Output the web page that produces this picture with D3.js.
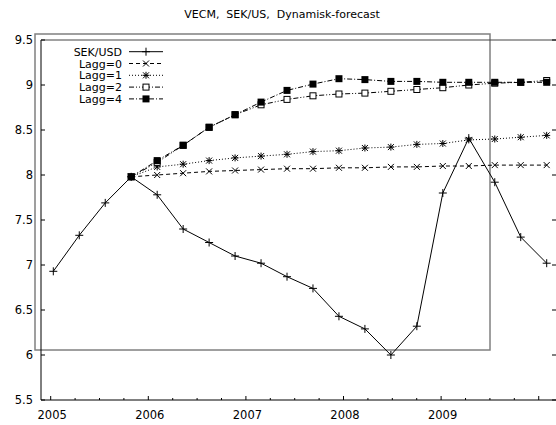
<!DOCTYPE html>
<html><head><meta charset="utf-8">
<script src="https://cdn.jsdelivr.net/npm/d3@7"></script>
<style>body{margin:0;background:#fff}svg{display:block}text{font-family:"DejaVu Sans",Verdana,sans-serif;fill:#000}</style>
</head><body><svg id="c" width="556" height="425"></svg>
<script>
const title = "VECM,  SEK/US,  Dynamisk-forecast";
const quarters = ["2005Q1","2005Q2","2005Q3","2005Q4","2006Q1","2006Q2","2006Q3","2006Q4","2007Q1","2007Q2","2007Q3","2007Q4","2008Q1","2008Q2","2008Q3","2008Q4","2009Q1","2009Q2","2009Q3","2009Q4"];
const sekusd = [6.93,7.33,7.69,7.98,7.78,7.40,7.25,7.10,7.02,6.87,6.74,6.43,6.29,6.00,6.32,7.80,8.41,7.92,7.31,7.02];
const forecastQuarters = quarters.slice(3);
const lagg0 = [7.98,8.00,8.02,8.04,8.05,8.06,8.07,8.07,8.08,8.08,8.09,8.09,8.10,8.10,8.11,8.11,8.11];
const lagg1 = [7.98,8.09,8.12,8.16,8.19,8.21,8.23,8.26,8.27,8.30,8.31,8.34,8.35,8.39,8.40,8.42,8.44];
const lagg2 = [7.98,8.14,8.33,8.53,8.67,8.78,8.84,8.88,8.90,8.91,8.93,8.95,8.97,9.00,9.02,9.03,9.05];
const lagg4 = [7.98,8.16,8.33,8.53,8.67,8.81,8.94,9.01,9.07,9.06,9.04,9.04,9.03,9.03,9.03,9.03,9.03];
const yTicks = [5.5,6,6.5,7,7.5,8,8.5,9,9.5];
const yearTicks = [2005,2006,2007,2008,2009];
const legendLabels = ["SEK/USD","Lagg=0","Lagg=1","Lagg=2","Lagg=4"];

const svg = d3.select("#c");
const L = 41, R = 556, T = 40, B = 400;
const y = d3.scaleLinear().domain([5.5, 9.5]).range([B, T]);
const xAxisScale = d3.scaleLinear().domain([2004.9006, 2010.177]).range([L, R]);
const xData = d3.scalePoint().domain(quarters).range([53.3, 546.7]);

// title
svg.append("text").attr("x", 282).attr("y", 18).attr("text-anchor", "middle")
  .style("font-size", "11px").style("white-space", "pre").text(title);

// gray overlay rectangle
svg.append("rect").attr("x", 35).attr("y", 34).attr("width", 455).attr("height", 316)
  .attr("fill", "none").attr("stroke", "#808080").attr("stroke-width", 1.5);

// frame
const frame = svg.append("g").attr("stroke", "#000").attr("stroke-width", 1);
frame.append("line").attr("x1", L).attr("x2", L).attr("y1", T).attr("y2", B);
frame.append("line").attr("x1", L).attr("x2", R).attr("y1", B).attr("y2", B);
frame.append("line").attr("x1", L).attr("x2", R).attr("y1", T).attr("y2", T).attr("stroke", "#444");

// y ticks
yTicks.forEach(v => {
  svg.append("line").attr("x1", L).attr("x2", L + 4).attr("y1", y(v)).attr("y2", y(v)).attr("stroke", "#000");
  svg.append("line").attr("x1", R - 4).attr("x2", R).attr("y1", y(v)).attr("y2", y(v)).attr("stroke", "#000");
  svg.append("text").attr("x", 33).attr("y", y(v) + 4).attr("text-anchor", "end")
    .style("font-size", "11.5px").text(v);
});

// x ticks (quarterly minor, yearly major)
const qt = d3.range(2005, 2010.2, 0.25);
qt.forEach(t => {
  const major = Math.abs(t - Math.round(t)) < 1e-6;
  const px = xAxisScale(t);
  if (px > R) return;
  svg.append("line").attr("x1", px).attr("x2", px).attr("y1", B).attr("y2", B - (major ? 4 : 2)).attr("stroke", "#000");
});
yearTicks.forEach(t => {
  svg.append("text").attr("x", xAxisScale(t) + 1.5).attr("y", 419).attr("text-anchor", "middle")
    .style("font-size", "11.5px").text(t);
});

// markers
function marker(g, type, cx, cy) {
  if (type === "plus") {
    g.append("path").attr("d", `M${cx-4},${cy}H${cx+4}M${cx},${cy-4}V${cy+4}`).attr("stroke", "#000").attr("fill", "none");
  } else if (type === "cross") {
    g.append("path").attr("d", `M${cx-3},${cy-3}L${cx+3},${cy+3}M${cx-3},${cy+3}L${cx+3},${cy-3}`).attr("stroke", "#000").attr("fill", "none");
  } else if (type === "star") {
    g.append("path").attr("d", `M${cx-3.5},${cy}H${cx+3.5}M${cx},${cy-3.5}V${cy+3.5}M${cx-3},${cy-3}L${cx+3},${cy+3}M${cx-3},${cy+3}L${cx+3},${cy-3}`).attr("stroke", "#000").attr("fill", "none");
  } else if (type === "osq") {
    g.append("rect").attr("x", cx - 3).attr("y", cy - 3).attr("width", 6).attr("height", 6).attr("fill", "#fff").attr("stroke", "#000");
  } else if (type === "fsq") {
    g.append("rect").attr("x", cx - 3.5).attr("y", cy - 3.5).attr("width", 7).attr("height", 7).attr("fill", "#000");
  }
}

const series = [
  {name: "SEK/USD", q: quarters, v: sekusd, dash: null, m: "plus"},
  {name: "Lagg=0", q: forecastQuarters, v: lagg0, dash: "4,3", m: "cross"},
  {name: "Lagg=1", q: forecastQuarters, v: lagg1, dash: "1,2", m: "star"},
  {name: "Lagg=2", q: forecastQuarters, v: lagg2, dash: "5,2,1,2,1,2", m: "osq"},
  {name: "Lagg=4", q: forecastQuarters, v: lagg4, dash: "5,2,1,2", m: "fsq"}
];
const line = d3.line().x(d => xData(d[0])).y(d => y(d[1]));
// draw forecast series first, actual last
[1,2,3,4,0].forEach(i => {
  const s = series[i];
  const pts = s.q.map((q, j) => [q, s.v[j]]);
  const g = svg.append("g");
  g.append("path").attr("d", line(pts)).attr("fill", "none").attr("stroke", "#000").attr("stroke-width", 1)
    .attr("stroke-dasharray", s.dash);
  pts.forEach(p => marker(g, s.m, xData(p[0]), y(p[1])));
});

// legend
series.forEach((s, i) => {
  const ly = 51.7 + i * 11.8;
  svg.append("text").attr("x", 122).attr("y", ly + 4).attr("text-anchor", "end")
    .style("font-size", "11px").text(legendLabels[i]);
  svg.append("line").attr("x1", 129).attr("x2", 163).attr("y1", ly).attr("y2", ly)
    .attr("stroke", "#000").attr("stroke-dasharray", s.dash);
  marker(svg, s.m, 146, ly);
});
</script></body></html>
